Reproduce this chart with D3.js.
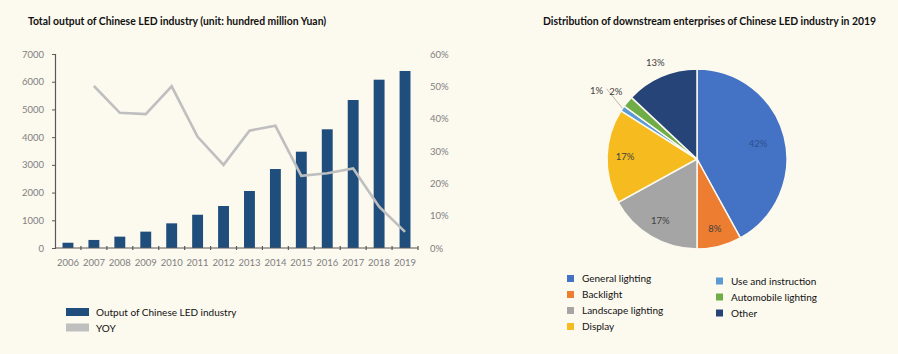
<!DOCTYPE html>
<html><head><meta charset="utf-8">
<script src="https://cdn.jsdelivr.net/npm/d3@7"></script>
<style>
html,body{margin:0;padding:0;background:#fcf9ef;}
svg{display:block;font-family:Lato,"Open Sans",sans-serif;}
</style></head>
<body><svg id="c" width="898" height="354"></svg>
<script>
const years = ["2006","2007","2008","2009","2010","2011","2012","2013","2014","2015","2016","2017","2018","2019"];
const output = [190, 290, 410, 590, 890, 1200, 1515, 2057, 2850, 3475, 4283, 5340, 6073, 6387];
const yoy = [null, 50.1, 41.8, 41.4, 50.0, 34.4, 25.7, 36.3, 37.8, 22.3, 23.1, 24.6, 12.8, 5.0];
const leftTicks = [0,1000,2000,3000,4000,5000,6000,7000];
const rightTicks = [0,10,20,30,40,50,60];

const pieCats = ["General lighting","Backlight","Landscape lighting","Display","Use and instruction","Automobile lighting","Other"];
const pieVals = [42, 8, 17, 17, 1, 2, 13];
const pieColors = ["#4472c4","#ed7d31","#a5a5a5","#f6bc1f","#5b9bd5","#70ad47","#264478"];

const svg = d3.select("#c");

// ---------- Left chart ----------
const L = {left:55, right:418, top:54, bottom:248};
svg.append("text").attr("x",28).attr("y",25).attr("font-size",10.4).attr("font-weight","bold")
  .attr("fill","#111").text("Total output of Chinese LED industry (unit: hundred million Yuan)");

const x = d3.scaleBand().domain(years).range([L.left, L.right]).paddingInner(0.58).paddingOuter(0.29);
const y = d3.scaleLinear().domain([0,7000]).range([L.bottom, L.top]);
const y2 = d3.scaleLinear().domain([0,60]).range([L.bottom, L.top]);

svg.append("g").selectAll("rect").data(output).join("rect")
  .attr("x",(d,i)=>x(years[i])).attr("width",x.bandwidth())
  .attr("y",d=>y(d)).attr("height",d=>y(0)-y(d)).attr("fill","#1f4e7c");

const line = d3.line().defined(d=>d!=null).x((d,i)=>x(years[i])+x.bandwidth()/2).y(d=>y2(d));
svg.append("path").datum(yoy).attr("d",line).attr("fill","none")
  .attr("stroke","#bfbfbf").attr("stroke-width",2.6).attr("stroke-linejoin","miter");

const gy = svg.append("g").attr("transform",`translate(${L.left},0)`)
  .call(d3.axisLeft(y).tickValues(leftTicks).tickSize(3).tickPadding(8).tickFormat(d3.format("d")));
gy.select(".domain").attr("stroke","#595959").attr("stroke-width",1.2);
gy.selectAll(".tick line").attr("stroke","#595959");
gy.selectAll("text").attr("fill","#808080").attr("font-size",9.5).attr("font-family","Lato,sans-serif");

const gy2 = svg.append("g").attr("transform",`translate(${L.right},0)`)
  .call(d3.axisRight(y2).tickValues(rightTicks).tickSize(0).tickPadding(12).tickFormat(d=>d+"%"));
gy2.select(".domain").remove();
gy2.selectAll("text").attr("fill","#808080").attr("font-size",9.5).attr("font-family","Lato,sans-serif");

const xStep = x.step();
const gx = svg.append("g").attr("transform",`translate(0,${L.bottom})`)
  .call(d3.axisBottom(x).tickSize(0).tickPadding(11));
gx.select(".domain").attr("stroke","#595959").attr("stroke-width",1.2).attr("d",`M${L.left},0H${L.right}`);
gx.selectAll("text").attr("fill","#808080").attr("font-size",9.5).attr("font-family","Lato,sans-serif");
// category boundary tick marks
svg.append("g").selectAll("line").data(years).join("line")
  .attr("x1",(d,i)=>x(years[i])+x.bandwidth()/2+xStep/2).attr("x2",(d,i)=>x(years[i])+x.bandwidth()/2+xStep/2)
  .attr("y1",L.bottom-2).attr("y2",L.bottom+2).attr("stroke","#595959").attr("stroke-width",1.2);

// legend left
const legL = [{name:"Output of Chinese LED industry",color:"#1f4e7c"},{name:"YOY",color:"#bfbfbf"}];
const lg = svg.append("g");
legL.forEach((d,i)=>{
  lg.append("rect").attr("x",66).attr("y",308+i*15.5).attr("width",23).attr("height",8).attr("fill",d.color);
  lg.append("text").attr("x",96).attr("y",316+i*15.5).attr("font-size",10).attr("fill","#111").text(d.name);
});

// ---------- Right chart ----------
svg.append("text").attr("x",543).attr("y",25).attr("font-size",10.4).attr("font-weight","bold")
  .attr("fill","#111").text("Distribution of downstream enterprises of Chinese LED industry in 2019");

const cx = 697, cy = 159, R = 90;
const pie = d3.pie().sort(null).value(d=>d)(pieVals);
const arc = d3.arc().innerRadius(0).outerRadius(R);
const pg = svg.append("g").attr("transform",`translate(${cx},${cy})`);
pg.selectAll("path").data(pie).join("path").attr("d",arc)
  .attr("fill",(d,i)=>pieColors[i]).attr("stroke","#fcf9ef").attr("stroke-width",1.5);

const inArc = d3.arc().innerRadius(R*0.8).outerRadius(R*0.8);
const inGen = d3.arc().innerRadius(R*0.7).outerRadius(R*0.7);
const outArc = d3.arc().innerRadius(R*1.17).outerRadius(R*1.17);
const farArc = d3.arc().innerRadius(R*1.35).outerRadius(R*1.35);
const edgeArc = d3.arc().innerRadius(R*1.0).outerRadius(R*1.0);
pie.forEach((d,i)=>{
  const v = pieVals[i];
  let p, col = "#404040";
  if (i === 6 || (v < 5 && v !== 1)) {
    p = outArc.centroid(d);
  } else if (v === 1) {
    p = farArc.centroid(d);
    const e = edgeArc.centroid(d);
    pg.append("line").attr("x1",e[0]).attr("y1",e[1]).attr("x2",p[0]+10).attr("y2",p[1]-2)
      .attr("stroke","#a6a6a6").attr("stroke-width",0.8);
  } else {
    p = (i===0 ? inGen : inArc).centroid(d);
    if (i===0) col = "#2d4f8e";
  }
  pg.append("text").attr("x",p[0]).attr("y",p[1]).attr("text-anchor","middle").attr("dy","0.35em")
    .attr("font-size",9.5).attr("fill",col).text(v+"%");
});

// legend right
const rg = svg.append("g");
pieCats.forEach((c,i)=>{
  const col = i<4 ? 0 : 1;
  const row = i<4 ? i : i-4;
  const lx = col===0 ? 567 : 716;
  const ly = (col===0 ? 278.5 : 281) + row*16;
  rg.append("rect").attr("x",lx).attr("y",ly-3.5).attr("width",7).attr("height",7).attr("fill",pieColors[i]);
  rg.append("text").attr("x",lx+15).attr("y",ly).attr("dy","0.35em").attr("font-size",10).attr("fill","#111").text(c);
});
</script></body></html>
